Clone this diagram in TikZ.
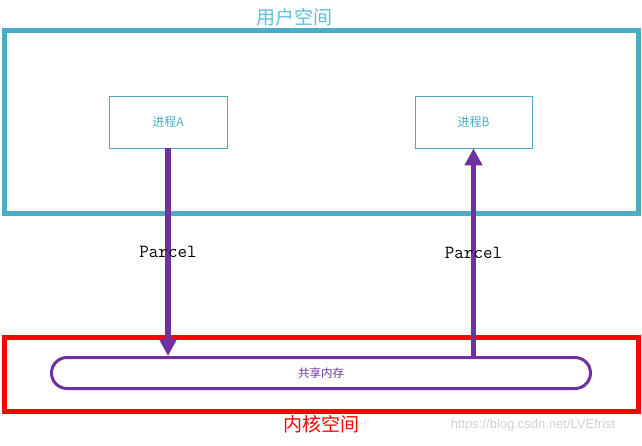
\documentclass[tikz,border=0pt]{standalone}
\usepackage{fontspec}
\newfontfamily\cjk{Noto Sans CJK SC}
\newfontfamily\markfont{Liberation Sans}
\definecolor{ipcteal}{RGB}{75,172,198}
\definecolor{ipclabel}{RGB}{91,190,220}
\definecolor{ipcpurple}{RGB}{112,48,160}
\definecolor{ipcred}{RGB}{255,0,0}
\usetikzlibrary{arrows.meta,positioning,calc}

\begin{document}
\begin{tikzpicture}[x=1pt,y=-1pt,
  space/.style={draw,line width=5pt,minimum width=634pt,inner sep=0pt},
  proc/.style={draw=ipcteal,line width=0.8pt,minimum width=118pt,minimum height=52pt,inner sep=0pt,text=ipcteal,font=\cjk\fontsize{12}{12}\selectfont},
  shmem/.style={draw=ipcpurple,line width=3pt,rounded corners=15.5pt,minimum width=539pt,minimum height=31pt,inner sep=0pt,text=ipcpurple,font=\cjk\fontsize{11.5}{12}\selectfont},
  pass/.style={-{Triangle[length=17pt,width=17pt]},line width=5.5pt,ipcpurple},
  parcel/.style={text=black,font=\ttfamily\fontsize{18.5}{19}\selectfont}]
  \useasboundingbox (0,0) rectangle (642,445);
  \node[space,draw=ipcteal,minimum height=183pt] (user) at (321,121.5) {};
  \node[space,draw=ipcred,minimum height=74pt] (kernel) at (321,374) {};
  \node[text=ipclabel,font=\cjk\fontsize{19}{19}\selectfont] (ulabel) at (294,17) {用户空间};
  \node[text=ipcred,font=\cjk\fontsize{19}{19}\selectfont] (klabel) at (321,424) {内核空间};
  \node[proc] (pa) at (168,122) {进程A};
  \node[proc,minimum width=117pt] (pb) at (473.5,122) {进程B};
  \node[shmem] (shm) at (321,373) {共享内存};
  \draw[pass] (pa.south) -- (pa.south |- shm.north) node[midway,parcel]{Parcel};
  \draw[pass] ($(pb.south |- shm.north)+(0,1)$) -- (pb.south) node[midway,parcel]{Parcel};
  \node[text=black!18,font=\markfont\fontsize{13}{13}\selectfont] (mark) at (533,425) {https://blog.csdn.net/LVEfrist};
\end{tikzpicture}
\end{document}
